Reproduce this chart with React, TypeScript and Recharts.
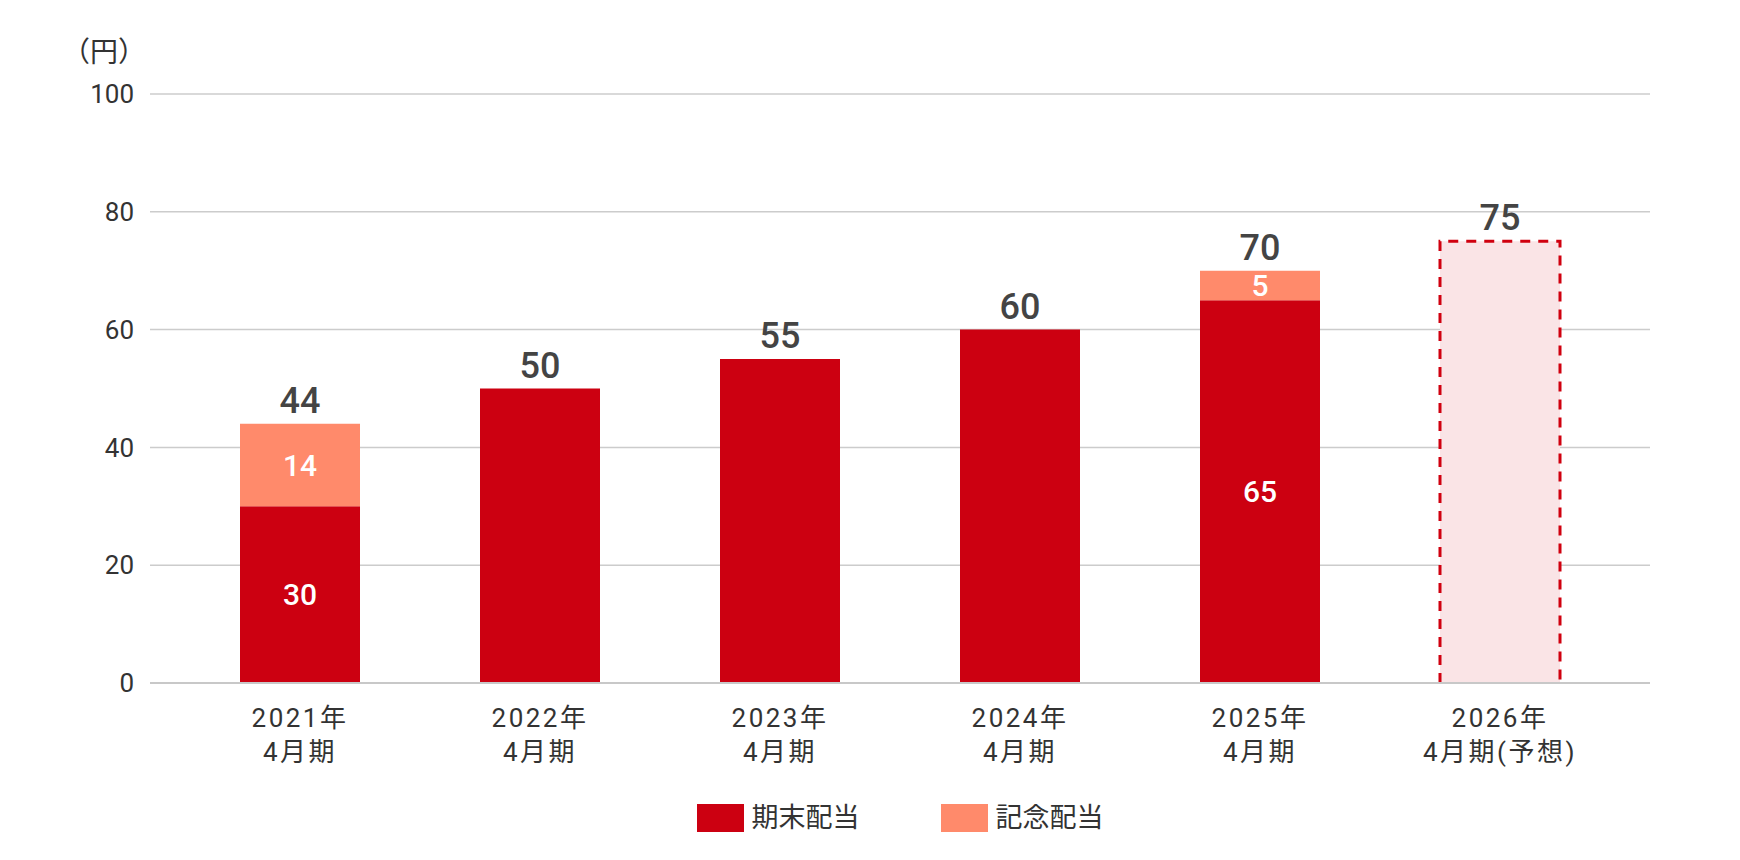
import React from 'react';
import { BarChart, Bar, XAxis, YAxis, CartesianGrid, LabelList, Legend } from 'recharts';

const categories = ['2021年\n4月期', '2022年\n4月期', '2023年\n4月期', '2024年\n4月期', '2025年\n4月期', '2026年\n4月期(予想)'];
const regularDividend = [30, 50, 55, 60, 65, null];
const commemorativeDividend = [14, null, null, null, 5, null];
const forecastDividend = [null, null, null, null, null, 75];
const totals = [44, 50, 55, 60, 70, 75];
const yTicks = [0, 20, 40, 60, 80, 100];

const RED = '#CC0011';
const SALMON = '#FF8A6B';
const FONT = "Roboto, 'Noto Sans CJK JP', sans-serif";

const data = categories.map((name, i) => {
  const hasExtra = commemorativeDividend[i] != null;
  const isForecast = forecastDividend[i] != null;
  return {
    name,
    regular: regularDividend[i],
    extra: commemorativeDividend[i],
    forecast: forecastDividend[i],
    regularTop: !hasExtra && !isForecast ? totals[i] : null,
    regularInner: hasExtra ? regularDividend[i] : null,
    extraTop: hasExtra ? totals[i] : null,
    forecastTop: isForecast ? totals[i] : null,
  };
});

const XTick = (props: any) => {
  const { x, y, payload } = props;
  const lines = String(payload.value).split('\n');
  return (
    <g>
      {lines.map((l, i) => (
        <text key={i} x={x} y={y + 36 + i * 34} textAnchor="middle" fill="#333" fontSize={26} fontFamily={FONT} letterSpacing={2.5}>
          {l}
        </text>
      ))}
    </g>
  );
};

const ForecastShape = (props: any) => {
  const { x, y, width, height } = props;
  if (!height) return null;
  const b = y + height;
  return (
    <g>
      <rect x={x} y={y} width={width} height={height} fill="#FAE4E6" />
      <path d={`M${x},${b} L${x},${y} L${x + width},${y} L${x + width},${b}`} fill="none" stroke="#D0000F" strokeWidth={3} strokeDasharray="10 8" />
    </g>
  );
};

const topLabelStyle = { fill: '#444', fontSize: 36, fontWeight: 500, fontFamily: FONT };
const innerLabelStyle = { fill: '#fff', fontSize: 30, fontWeight: 500, fontFamily: FONT };

const LegendContent = () => (
  <div style={{ display: 'flex', justifyContent: 'center', height: 28, fontFamily: FONT }}>
    {[{ c: RED, t: '期末配当' }, { c: SALMON, t: '記念配当' }].map((it, i) => (
      <div key={i} style={{ display: 'flex', alignItems: 'center', height: 28, marginLeft: i ? 81 : 0 }}>
        <div style={{ width: 47, height: 28, background: it.c }} />
        <span style={{ marginLeft: 8, fontSize: 27, color: '#333', lineHeight: '28px' }}>{it.t}</span>
      </div>
    ))}
  </div>
);

export default function App() {
  return (
    <div style={{ position: 'absolute', left: 0, top: 0, width: 1740, height: 860, background: '#fff' }}>
      <div style={{ position: 'absolute', left: 62, top: 30, fontSize: 28, color: '#333', fontFamily: "'Noto Sans CJK JP', sans-serif" }}>（円）</div>
      <BarChart width={1740} height={860} data={data} margin={{ top: 94, right: 90, left: 0, bottom: 28 }} barSize={120}>
        <CartesianGrid vertical={false} stroke="#cccccc" strokeWidth={1.5} />
        <XAxis dataKey="name" tick={<XTick />} tickLine={false} axisLine={{ stroke: '#c8c8c8', strokeWidth: 2 }} height={121} interval={0} padding={{ left: 30, right: 30 }} />
        <YAxis domain={[0, 100]} ticks={yTicks} width={150} tickLine={false} axisLine={false} tickMargin={10} tick={{ fill: '#333', fontSize: 26, fontFamily: FONT }} />
        <Legend verticalAlign="bottom" content={<LegendContent />} wrapperStyle={{ left: 150, width: 1500 }} />
        <Bar dataKey="regular" stackId="a" fill={RED} isAnimationActive={false}>
          <LabelList dataKey="regularInner" position="center" style={innerLabelStyle} />
          <LabelList dataKey="regularTop" position="top" offset={11} style={topLabelStyle} />
        </Bar>
        <Bar dataKey="extra" stackId="a" fill={SALMON} isAnimationActive={false}>
          <LabelList dataKey="extra" position="center" style={innerLabelStyle} />
          <LabelList dataKey="extraTop" position="top" offset={11} style={topLabelStyle} />
        </Bar>
        <Bar dataKey="forecast" stackId="a" shape={<ForecastShape />} isAnimationActive={false} legendType="none">
          <LabelList dataKey="forecastTop" position="top" offset={11} style={topLabelStyle} />
        </Bar>
      </BarChart>
    </div>
  );
}
